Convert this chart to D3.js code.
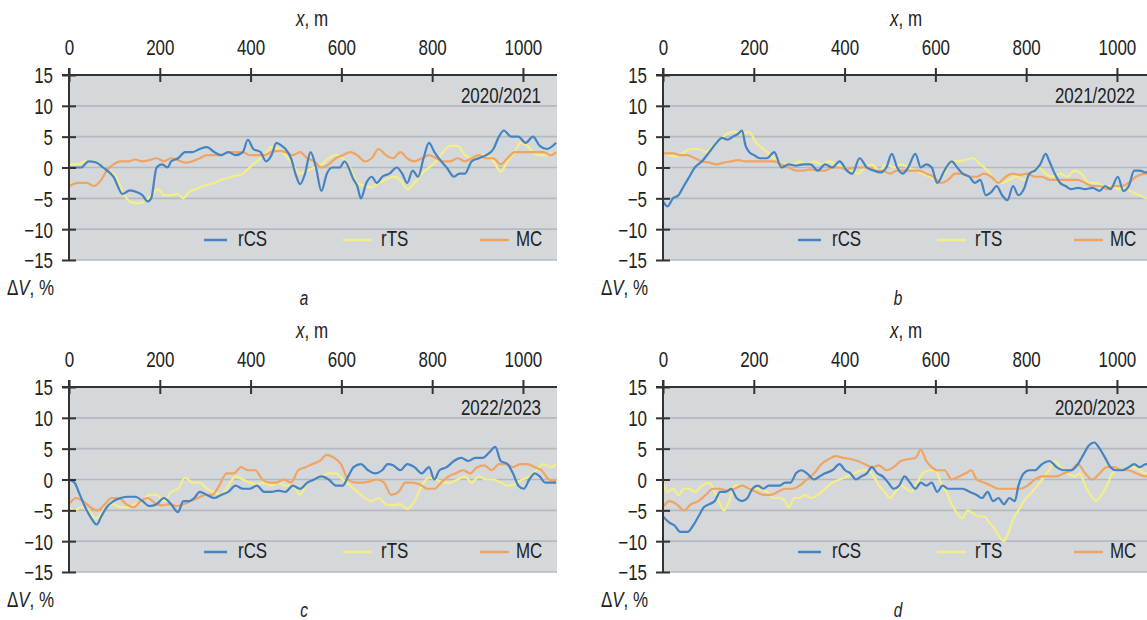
<!DOCTYPE html>
<html><head><meta charset="utf-8">
<script src="https://cdn.jsdelivr.net/npm/d3@7"></script>
<style>
html,body{margin:0;padding:0;background:#fff;}
svg{display:block;}
text{font-family:'Liberation Sans',Arial,sans-serif;fill:#222;}
</style></head>
<body>
<svg id="chart" width="1147" height="620"></svg>
<script>
// ---------- data ----------
const panelLetters = ["a", "b", "c", "d"];
const periods = ["2020/2021", "2021/2022", "2022/2023", "2020/2023"];
const seriesNames = ["rCS", "rTS", "MC"];
const xTicks = [0, 200, 400, 600, 800, 1000];
const yTicks = [15, 10, 5, 0, -5, -10, -15];

// panel a (2020/2021)  [x (m), dV (%)]
const a_rCS = [[0,0],[27,0],[43,1],[60,0.8],[75,0],[98,-1.5],[118,-4.3],[134,-3.7],[150,-4],[162,-4.5],[173,-5.5],[181,-5],[193,0],[205,0.5],[217,0],[225,1],[240,1.5],[256,2.5],[272,2.5],[288,3],[304,3.3],[320,2.5],[335,2],[351,2.5],[367,2],[383,2.5],[394,4.5],[406,3],[422,2.5],[434,1],[446,2],[457,4],[469,3.5],[477,3],[489,1.5],[501,-1.5],[509,-2.7],[520,-1],[532,2.5],[544,0],[556,-3.8],[568,-1],[580,0],[596,0],[607,1],[627,-2],[635,-3],[643,-5],[655,-2.5],[667,-1.5],[678,-2.5],[690,-1.5],[706,-1],[722,0],[734,-1],[745,-2.5],[757,-0.5],[769,-1.5],[781,1.5],[793,4],[805,2.5],[820,1],[832,0],[848,-1.5],[860,-1],[872,-1],[887,1],[903,1.5],[919,2],[935,3],[947,5],[958,6],[974,5],[990,5],[1006,4],[1022,5],[1037,3.5],[1053,3],[1073,4]];
const a_rTS = [[0,0.5],[20,0.5],[35,1],[51,1],[67,0.5],[83,-0.5],[98,-1],[110,-2.5],[122,-4.5],[134,-5.5],[150,-5.8],[166,-5.5],[181,-4.5],[197,-3.5],[209,-4.5],[225,-4.5],[240,-4.3],[252,-5],[264,-4],[280,-3.5],[296,-3],[320,-2.5],[335,-2],[359,-1.5],[383,-1],[398,0],[414,1],[430,2],[446,3.3],[461,3],[477,2],[493,0.5],[509,-1],[525,-0.5],[540,0],[556,0.5],[572,1.5],[588,2],[603,1.5],[619,0],[635,-2.5],[651,-3],[667,-3.2],[682,-2.5],[698,-2],[714,-1.5],[730,-2],[745,-3.5],[761,-2.5],[777,-1],[793,0],[809,1],[824,2.5],[840,3.5],[856,3.5],[872,2],[887,1.5],[903,2],[919,2],[935,1],[951,-0.7],[966,1],[982,2.5],[995,4],[1010,3.5],[1022,2.5],[1037,2],[1053,2],[1073,2.5]];
const a_MC = [[0,-3],[20,-2.5],[39,-2.5],[55,-3],[71,-2],[83,-0.5],[98,0.5],[114,1],[130,1],[146,1.3],[162,1],[177,1.2],[193,1.5],[209,1],[225,1.5],[240,1.2],[256,0.8],[272,1],[288,1.5],[304,2],[320,2],[335,2],[351,2.5],[367,2.5],[383,2.5],[398,2],[414,2],[430,2],[446,2.5],[461,2.7],[477,2.5],[493,2],[509,2.5],[525,1.5],[540,1],[556,0],[572,0.5],[588,1.5],[603,2],[619,2.5],[635,2],[651,1],[667,1.5],[682,3],[698,2],[714,1.5],[730,2.5],[745,1.5],[761,1],[777,1.5],[793,2],[809,1.5],[824,1],[840,1],[856,1.5],[872,1],[887,1.5],[903,2],[919,1.5],[935,1.5],[951,0.5],[966,1.5],[982,2.5],[998,2.5],[1014,2.5],[1029,2.5],[1045,2.5],[1061,2],[1073,2.5]];

// panel b (2021/2022)
const b_rCS = [[0,-5.5],[10,-6.3],[22,-5],[34,-4.5],[46,-3],[58,-1.5],[70,0],[86,1],[102,2.5],[118,4],[130,4.8],[142,4.5],[154,5],[166,5.5],[174,6],[182,3.5],[190,2.5],[201,2],[213,1.5],[229,1.5],[245,2.5],[261,0],[277,0.5],[293,0.3],[309,0.5],[325,0.5],[341,-0.5],[357,0.5],[373,0],[389,1],[405,-0.5],[417,-1],[433,1.5],[449,0],[464,-0.5],[480,-0.8],[492,0],[504,2.2],[516,0],[528,-1],[540,0],[556,2.2],[568,0],[580,0.5],[592,0],[604,-2.5],[620,-0.5],[636,1],[648,0],[660,-1],[675,-1.5],[687,-2.5],[699,-2],[711,-4.5],[723,-4],[735,-3],[747,-4.5],[759,-5.3],[771,-3],[783,-4.5],[795,-3.5],[807,-1],[819,-0.5],[831,0.5],[843,2.2],[851,1],[863,-1],[875,-2.5],[887,-3],[899,-3.5],[914,-3.3],[930,-3.5],[946,-3.3],[962,-3.8],[974,-3],[986,-3.5],[1002,-1.5],[1014,-3.8],[1026,-3],[1038,-0.5],[1050,-0.5],[1064,-0.8],[1075,-0.5]];
const b_rTS = [[0,2.5],[14,2],[30,1.8],[46,2.5],[62,3],[78,3],[94,2.5],[110,3.5],[126,4.5],[142,5.5],[158,5.8],[174,5.5],[190,5.8],[205,4],[221,3],[237,2],[253,1],[269,0.5],[285,0.5],[301,1],[317,0.5],[333,1],[349,0.5],[365,1],[381,0.5],[397,0],[413,-0.5],[429,-1],[445,0],[460,0.5],[476,-0.5],[492,0.5],[508,0],[524,0.5],[540,0],[556,-0.5],[572,-1],[588,-1.5],[604,-2],[620,-1],[636,1],[652,1],[668,1.3],[683,1.5],[699,0.5],[715,-0.5],[731,-2],[747,-2.5],[763,-2],[779,-1.5],[795,-2],[811,-1],[827,0],[843,-1],[859,-1.5],[875,-1],[891,-1.5],[906,-0.5],[922,-1],[938,-2.5],[954,-2.5],[970,-3],[986,-3],[1002,-3.5],[1018,-3.5],[1034,-4],[1050,-4.5],[1064,-5],[1075,-5.3]];
const b_MC = [[0,2.3],[22,2.3],[38,2],[54,2],[70,1.5],[86,1],[102,0.8],[118,0.5],[134,0.8],[150,1],[166,1.2],[182,1],[197,1],[213,1],[229,1],[245,1],[261,0.5],[277,0],[293,-0.5],[309,-0.5],[325,-0.3],[341,-0.5],[357,-0.5],[373,0],[389,0],[405,-0.3],[421,0],[437,0],[452,0],[468,-0.5],[484,-0.5],[500,-1],[516,-0.5],[532,-0.5],[548,-0.5],[564,-0.5],[580,-1],[596,-1.5],[612,-2.5],[628,-2],[644,-1],[660,-1],[675,-1.5],[691,-1.5],[707,-1],[723,-1.5],[739,-2.5],[755,-1.5],[771,-1],[787,-1.2],[803,-1],[819,-1.5],[835,-1.5],[851,-2],[867,-2],[883,-2],[899,-2],[914,-2],[930,-2.5],[946,-3],[962,-3],[978,-3.5],[994,-3],[1010,-3],[1026,-2.5],[1042,-1.5],[1064,-1],[1075,-1]];

// panel c (2022/2023)
const c_rCS = [[0,0],[12,-0.5],[24,-2.5],[39,-5],[51,-6.5],[61,-7.3],[71,-6],[83,-4.5],[98,-3.5],[114,-3],[130,-2.8],[146,-2.8],[162,-3.5],[177,-4.3],[193,-4],[209,-3],[225,-4],[240,-5.3],[252,-3.5],[264,-3.5],[276,-3],[288,-2],[304,-2.5],[320,-3],[335,-2.5],[351,-2],[367,-1],[383,-1.5],[398,-1.5],[414,-1],[430,-2],[446,-2],[461,-1.8],[477,-2],[493,-1],[509,-1.5],[525,-0.5],[540,0],[556,0.5],[572,0],[588,-1],[603,-1],[615,0.5],[627,2],[643,2.5],[659,1.5],[674,1],[690,1.5],[702,2.5],[714,2.3],[730,1.5],[745,2.5],[761,2],[777,1],[793,2],[805,0],[816,1.5],[832,2],[848,3],[864,3.5],[880,3],[895,3.5],[911,3.5],[927,4.5],[939,5.3],[951,3],[966,2.5],[978,1],[990,-1],[1002,-1.5],[1014,0],[1026,1],[1037,0.5],[1049,-0.5],[1073,-0.5]];
const c_rTS = [[0,-4.5],[12,-5],[27,-4.5],[43,-5],[59,-6.3],[71,-5.5],[83,-4.5],[98,-4],[114,-4.5],[130,-4.5],[146,-4],[162,-3.5],[177,-2.5],[193,-2.5],[209,-3.5],[225,-2],[240,-1.5],[256,0.3],[272,-0.5],[288,-0.5],[304,-1.5],[320,-2],[335,-2.5],[351,-1],[367,0.5],[383,0],[398,-0.5],[414,-0.8],[430,-0.5],[446,-1],[461,-0.5],[477,-1],[493,-1],[509,-2.5],[525,-0.5],[540,0],[556,0.5],[572,1],[588,1],[603,0],[619,-1],[635,-2],[651,-3],[667,-3.5],[682,-3],[698,-4],[714,-4.2],[730,-4],[745,-4.8],[761,-3.5],[777,-1],[793,0.3],[809,0],[824,-0.5],[840,-0.5],[856,0],[872,0.5],[887,-0.5],[903,0.5],[919,0],[935,0],[951,-0.5],[966,-1],[982,-0.8],[998,0],[1014,0.5],[1029,1.5],[1045,2.5],[1061,2],[1073,2.5]];
const c_MC = [[0,-4],[16,-3],[31,-3.5],[47,-4.5],[63,-5],[79,-4],[94,-3],[110,-3],[126,-4],[142,-4.5],[158,-3.5],[173,-3],[189,-3.8],[205,-4.2],[221,-4],[237,-4.3],[252,-4],[268,-3.5],[284,-3],[300,-2.5],[315,-2.5],[331,-1],[347,1],[363,1],[379,2],[394,1.5],[410,1.5],[426,0],[442,-0.5],[457,-0.5],[473,0],[489,-0.5],[505,1.5],[521,2],[536,2.5],[552,3],[568,4],[584,3.5],[599,2.5],[615,0],[631,-0.5],[647,-0.5],[663,-0.3],[678,0],[694,-0.5],[710,-2.5],[726,-2],[741,-0.5],[757,-0.5],[773,-0.8],[789,-1.5],[805,-1.5],[820,-0.5],[836,0.5],[852,1],[868,1.5],[884,1],[899,2],[915,2.3],[931,1.5],[947,2.5],[963,2.5],[978,2],[994,2.5],[1010,2.5],[1026,2],[1041,1.5],[1057,0],[1073,-0.3]];

// panel d (2020/2023)
const d_rCS = [[0,-6],[14,-7],[26,-7.5],[38,-8.5],[54,-8.5],[66,-7.5],[78,-6],[90,-4.5],[102,-4],[114,-3.5],[126,-2],[138,-2],[150,-1.5],[162,-3],[174,-3.5],[186,-3],[197,-1.5],[209,-1],[221,-1.5],[233,-1],[245,-1],[257,-1],[269,-0.5],[281,-0.5],[293,1],[305,1.5],[317,1],[333,0],[345,0.5],[357,1],[373,1.5],[389,2.5],[401,1.5],[413,1],[425,0],[437,0.5],[449,1],[460,2],[472,1],[484,0.5],[496,-0.5],[508,-1.5],[520,-1],[532,0.5],[544,-0.5],[556,-1.5],[568,-0.5],[580,-1],[592,-0.5],[604,-2],[616,-1],[628,-1.5],[644,-1.5],[660,-1.5],[675,-2],[691,-2.5],[703,-3],[715,-2],[727,-3.5],[739,-3],[751,-4],[763,-3],[775,-3.5],[783,-1],[795,1],[807,1.5],[819,1.5],[835,2.5],[851,3],[867,2],[883,1.5],[899,1.5],[914,2.5],[926,4],[938,5.5],[950,6],[962,5],[974,3.5],[986,2],[998,1.5],[1010,1.5],[1026,2],[1038,2.5],[1050,2],[1064,2.5],[1075,2.5]];
const d_rTS = [[0,-0.5],[10,-2],[22,-1.5],[34,-2.5],[46,-1.5],[58,-1.5],[70,-2],[86,-1],[102,-0.5],[114,-2],[126,-4],[134,-5],[146,-3.5],[158,-1],[170,-1],[182,-1.2],[197,-1.5],[213,-1.5],[229,-2],[245,-3],[257,-3],[269,-3.5],[277,-4.5],[289,-3],[301,-3],[313,-2.5],[325,-3],[341,-2.5],[357,-1.5],[373,-0.5],[389,0],[405,0.5],[421,1],[437,1.5],[452,1.5],[464,0.5],[476,-1],[488,-2],[500,-3],[512,-2],[524,-1],[536,-1.5],[548,-2],[560,-0.5],[572,1],[588,1.5],[600,1.5],[612,-0.5],[624,-2],[636,-4],[648,-5.5],[660,-6.3],[671,-5],[683,-5.5],[695,-6],[707,-6],[719,-7],[731,-8],[743,-9.5],[751,-10],[759,-9],[771,-6.5],[783,-5],[795,-3.5],[807,-2.5],[819,-1.5],[835,0],[851,1.5],[863,3],[875,2],[891,1],[907,0.5],[918,1],[930,-1],[942,-2.5],[954,-3.5],[966,-2.5],[978,-1],[990,1],[1002,1.5],[1018,1.5],[1034,2],[1050,1.5],[1064,1],[1075,1]];
const d_MC = [[0,-4.5],[14,-3.5],[30,-4],[46,-5],[62,-4],[78,-3.5],[94,-2.5],[110,-1.5],[126,-1.5],[142,-1.8],[158,-1.5],[174,-1],[190,-1.5],[205,-2],[221,-2.5],[237,-2.5],[253,-2],[269,-1.5],[285,-1.5],[301,-1],[317,0],[333,1],[349,2.5],[365,3.3],[381,3.8],[397,3.5],[413,3.3],[429,3],[444,2.5],[460,2],[476,2.3],[492,1.5],[508,2],[524,3],[540,3.3],[556,3.5],[568,4.8],[580,3],[592,2],[604,1.5],[620,1.5],[636,0],[652,0.5],[667,1],[679,1.5],[691,0],[707,-0.5],[723,-1],[739,-1.5],[755,-1.5],[771,-1.5],[787,-1.5],[803,-1],[819,0],[835,0.5],[851,0.5],[867,0.5],[883,1],[899,1.5],[914,2.5],[930,1],[946,0],[962,1],[978,2],[994,2],[1010,1.5],[1026,1.5],[1042,1],[1064,0.5],[1075,0.5]];

const panelData = [
  [a_rCS, a_rTS, a_MC],
  [b_rCS, b_rTS, b_MC],
  [c_rCS, c_rTS, c_MC],
  [d_rCS, d_rTS, d_MC]
];

// ---------- styling / layout ----------
const colors = {rCS: "#4583c2", rTS: "#f4ee86", MC: "#f0a462"};
const drawOrder = [1, 2, 0]; // rTS, MC, rCS on top
const origins = [[69, 75], [663, 75], [69, 387], [663, 387]];
const W = 488, H = 185;
const FS = 22;
const SQ = 0.77; // horizontal condensing of the type

const svg = d3.select("#chart");

// condensed type: move x/y into a transform and squeeze horizontally
function condense(sel) {
  sel.each(function () {
    const t = d3.select(this);
    const x = +(t.attr("x") || 0), y = +(t.attr("y") || 0);
    t.attr("x", 0).attr("y", 0).attr("transform", `translate(${x},${y}) scale(${SQ},1)`);
  });
}

origins.forEach((o, i) => {
  const [x0, y0] = o;
  const x = d3.scaleLinear().domain([0, 1075]).range([x0, x0 + W]);
  const y = d3.scaleLinear().domain([-15, 15]).range([y0 + H, y0]);
  const g = svg.append("g");

  // background
  g.append("rect").attr("x", x0).attr("y", y0).attr("width", W).attr("height", H).attr("fill", "#d5d8db");

  // gridlines
  g.selectAll("line.grid").data(yTicks.filter(t => t !== 15)).join("line")
    .attr("class", "grid")
    .attr("x1", x0).attr("x2", x0 + W)
    .attr("y1", d => y(d)).attr("y2", d => y(d))
    .attr("stroke", "#b5b9bd").attr("stroke-width", 1.6);

  // clip
  const cid = "clip" + i;
  svg.append("clipPath").attr("id", cid).append("rect")
    .attr("x", x0).attr("y", y0).attr("width", W).attr("height", H);

  // lines
  const line = d3.line().x(d => x(d[0])).y(d => y(d[1])).curve(d3.curveMonotoneX);
  const lg = g.append("g").attr("clip-path", `url(#${cid})`);
  drawOrder.forEach(si => {
    lg.append("path").datum(panelData[i][si])
      .attr("d", line)
      .attr("fill", "none")
      .attr("stroke", colors[seriesNames[si]])
      .attr("stroke-width", 2.2)
      .attr("stroke-linejoin", "round");
  });

  // x axis (top)
  const xa = g.append("g").attr("transform", `translate(0,${y0})`)
    .call(d3.axisTop(x).tickValues(xTicks).tickSize(7).tickSizeOuter(0).tickPadding(0)
      .tickFormat(d3.format("d")));
  xa.select(".domain").remove();
  xa.selectAll(".tick line").attr("y1", 7).attr("y2", -7).attr("stroke", "#333").attr("stroke-width", 2);
  xa.selectAll(".tick text").attr("y", -20).attr("dy", 0)
    .style("font-size", FS + "px").attr("fill", "#222").call(condense);
  g.append("line").attr("x1", x0 - 7).attr("x2", x0 + W).attr("y1", y0).attr("y2", y0)
    .attr("stroke", "#333").attr("stroke-width", 2);

  // y axis (left)
  const ya = g.append("g").attr("transform", `translate(${x0},0)`)
    .call(d3.axisLeft(y).tickValues(yTicks).tickSize(7).tickSizeOuter(0).tickPadding(0)
      .tickFormat(d => d < 0 ? "\u2212" + Math.abs(d) : d));
  ya.select(".domain").remove();
  ya.selectAll(".tick line").attr("x1", 7).attr("x2", -7).attr("stroke", "#333").attr("stroke-width", 2);
  ya.selectAll(".tick text").attr("x", -16).attr("dy", "0.36em")
    .style("font-size", FS + "px").attr("fill", "#222").call(condense);
  g.append("line").attr("x1", x0).attr("x2", x0).attr("y1", y0 - 7).attr("y2", y0 + H)
    .attr("stroke", "#333").attr("stroke-width", 2);

  // axis titles
  const xt = g.append("text").attr("x", x0 + 243).attr("y", y0 - 49).attr("text-anchor", "middle")
    .style("font-size", FS + "px");
  xt.append("tspan").style("font-style", "italic").text("x");
  xt.append("tspan").text(", m");
  condense(xt);

  const yt = g.append("text").attr("x", x0 - 62).attr("y", y0 + H + 35)
    .style("font-size", FS + "px");
  yt.append("tspan").text("\u0394");
  yt.append("tspan").style("font-style", "italic").text("V");
  yt.append("tspan").text(", %");
  condense(yt);

  // period label
  g.append("text").attr("x", x0 + 472).attr("y", y0 + 28).attr("text-anchor", "end")
    .style("font-size", FS + "px").text(periods[i]).call(condense);

  // panel letter
  g.append("text").attr("x", x0 + 235).attr("y", y0 + H + 45).attr("text-anchor", "middle")
    .style("font-size", "20px").style("font-style", "italic").text(panelLetters[i]).call(condense);

  // legend
  const legX = [[135, 158, 169], [274, 303, 312], [411, 440, 447]];
  const lgY = y0 + 171;
  seriesNames.forEach((s, k) => {
    g.append("line").attr("x1", x0 + legX[k][0]).attr("x2", x0 + legX[k][1])
      .attr("y1", lgY - 6).attr("y2", lgY - 6)
      .attr("stroke", colors[s]).attr("stroke-width", 2.5);
    g.append("text").attr("x", x0 + legX[k][2]).attr("y", lgY)
      .style("font-size", FS + "px").text(s).call(condense);
  });
});
</script>
</body></html>
